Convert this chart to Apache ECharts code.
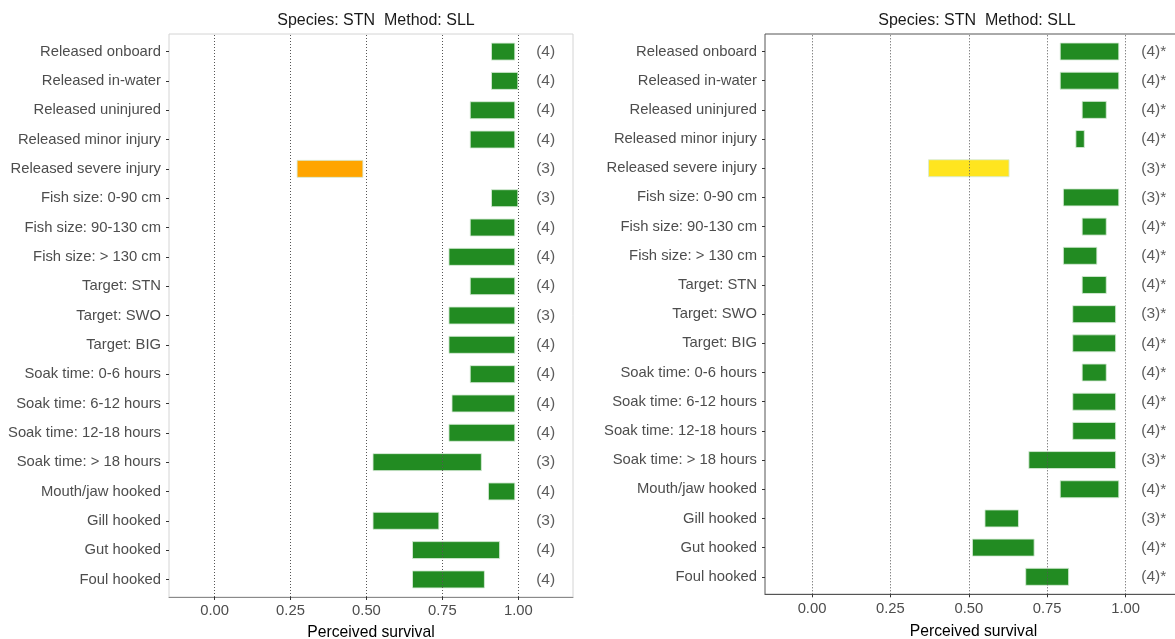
<!DOCTYPE html>
<html>
<head>
<meta charset="utf-8">
<title>Perceived survival – STN / SLL</title>
<script src="https://cdn.jsdelivr.net/npm/echarts@6/dist/echarts.min.js"></script>
<style>
  html, body { margin: 0; padding: 0; background: #fff; overflow: hidden; }
  #chart { width: 1175px; height: 639px; }
</style>
</head>
<body>
<div id="chart"></div>
<script>
// Release / capture conditions (top to bottom)
const categories = [
  'Released onboard', 'Released in-water', 'Released uninjured', 'Released minor injury',
  'Released severe injury', 'Fish size: 0-90 cm', 'Fish size: 90-130 cm', 'Fish size: > 130 cm',
  'Target: STN', 'Target: SWO', 'Target: BIG', 'Soak time: 0-6 hours', 'Soak time: 6-12 hours',
  'Soak time: 12-18 hours', 'Soak time: > 18 hours', 'Mouth/jaw hooked', 'Gill hooked',
  'Gut hooked', 'Foul hooked'
];

// Left panel: perceived survival ranges (low / high) and number of responses
const leftLow  = [0.91, 0.91, 0.84, 0.84, 0.27, 0.91, 0.84, 0.77, 0.84, 0.77, 0.77, 0.84, 0.78, 0.77, 0.52, 0.90, 0.52, 0.65, 0.65];
const leftHigh = [0.99, 1.00, 0.99, 0.99, 0.49, 1.00, 0.99, 0.99, 0.99, 0.99, 0.99, 0.99, 0.99, 0.99, 0.88, 0.99, 0.74, 0.94, 0.89];
const leftN    = [4, 4, 4, 4, 3, 3, 4, 4, 4, 3, 4, 4, 4, 4, 3, 4, 3, 4, 4];

// Right panel
const rightLow  = [0.79, 0.79, 0.86, 0.84, 0.37, 0.80, 0.86, 0.80, 0.86, 0.83, 0.83, 0.86, 0.83, 0.83, 0.69, 0.79, 0.55, 0.51, 0.68];
const rightHigh = [0.98, 0.98, 0.94, 0.87, 0.63, 0.98, 0.94, 0.91, 0.94, 0.97, 0.97, 0.94, 0.97, 0.97, 0.97, 0.98, 0.66, 0.71, 0.82];
const rightN    = [4, 4, 4, 4, 3, 3, 4, 4, 4, 3, 4, 4, 4, 4, 3, 4, 3, 4, 4];

const panelTitle = 'Species: STN  Method: SLL';
const xTicks = [0, 0.25, 0.5, 0.75, 1.0];
const xName = 'Perceived survival';

// Fill colour by the midpoint of each range
function fillFor(lo, hi, lowColor) {
  const mid = (lo + hi) / 2;
  return mid < 0.55 ? lowColor : '#228B22';
}

const FONT = 'Liberation Sans, Arial, sans-serif';
const COUNT_X = 1.09;   // column where the response counts sit
const X_MIN = -0.15, X_MAX = 1.18;
const INSET = 2.9;      // extra padding of the category band inside each frame

// Data grid: horizontal range bars + count labels
function dataPanel(idx, low, high, n, suffix, lowColor) {
  const xAxis = { type: 'value', gridIndex: idx, min: X_MIN, max: X_MAX, show: false };
  const yAxis = {
    type: 'category', gridIndex: idx, data: categories, inverse: true,
    axisLine: { show: false, onZero: false },
    axisTick: { show: true, length: 3, alignWithLabel: true, lineStyle: { color: '#333' } },
    axisLabel: { margin: 8, fontFamily: FONT, fontSize: 14.8, color: '#4d4d4d' },
    splitLine: { show: false }
  };
  const series = [
    {
      type: 'bar', xAxisIndex: idx, yAxisIndex: idx, stack: 'range' + idx, barWidth: 18,
      silent: true, itemStyle: { color: 'transparent' },
      data: low, z: 1
    },
    {
      type: 'bar', xAxisIndex: idx, yAxisIndex: idx, stack: 'range' + idx, barWidth: 18,
      data: low.map((lo, i) => ({
        value: +(high[i] - lo).toFixed(4),
        itemStyle: { color: fillFor(lo, high[i], lowColor) }
      })),
      itemStyle: { borderColor: 'rgba(215,235,215,0.85)', borderWidth: 1 },
      z: 3
    },
    {
      type: 'scatter', xAxisIndex: idx, yAxisIndex: idx, symbolSize: 0,
      data: categories.map(c => [COUNT_X, c]),
      label: {
        show: true, position: 'inside', fontFamily: FONT, fontSize: 15.5, color: '#333',
        formatter: p => '(' + n[p.dataIndex] + ')' + suffix
      },
      z: 4
    }
  ];
  return { xAxis, yAxis, series };
}

// Frame grid: panel border, x axis with ticks/labels/title, dotted reference lines
function framePanel(idx, axisLineColor, labelMargin, nameGap) {
  const xAxis = {
    type: 'value', gridIndex: idx, min: X_MIN, max: X_MAX,
    name: xName, nameLocation: 'middle', nameGap: nameGap,
    nameTextStyle: { fontFamily: FONT, fontSize: 15.7, color: '#000' },
    axisLine: { show: true, onZero: false, lineStyle: { color: axisLineColor, width: 1 } },
    axisTick: { show: true, length: 3, customValues: xTicks, lineStyle: { color: '#333' } },
    axisLabel: { customValues: xTicks, margin: labelMargin, fontFamily: FONT, fontSize: 14.8, color: '#4d4d4d',
                 formatter: v => v.toFixed(2) },
    splitLine: { show: false }
  };
  const yAxis = { type: 'value', gridIndex: idx, min: 0, max: 1, show: false };
  const series = [{
    type: 'scatter', xAxisIndex: idx, yAxisIndex: idx, data: [], silent: true,
    markLine: {
      silent: true, symbol: 'none', label: { show: false },
      lineStyle: { type: [1, 2], color: '#555', width: 1 },
      data: xTicks.map(v => ({ xAxis: v }))
    },
    z: 1
  }];
  return { xAxis, yAxis, series };
}

const L = dataPanel(0, leftLow, leftHigh, leftN, '', '#FFA500');
const R = dataPanel(1, rightLow, rightHigh, rightN, '*', '#FFE51F');
const FL = framePanel(2, '#8a8a8a', 6, 28);
const FR = framePanel(3, '#555', 7.5, 29);

const titleStyle = { fontFamily: FONT, fontSize: 16, fontWeight: 'normal', color: '#1a1a1a' };
const gridBase = { outerBoundsMode: 'none', containLabel: false };

const chart = echarts.init(document.getElementById('chart'), null, { renderer: 'canvas' });
chart.setOption({
  animation: false,
  backgroundColor: '#fff',
  title: [
    { text: panelTitle, left: 371, top: 8, textAlign: 'center', textStyle: titleStyle },
    { text: panelTitle, left: 972, top: 8, textAlign: 'center', textStyle: titleStyle }
  ],
  grid: [
    // data areas
    { ...gridBase, left: 169, top: 34 + INSET, width: 404, bottom: 42 + INSET },
    { ...gridBase, left: 765, top: 34 + INSET, width: 417, bottom: 44.7 + INSET },
    // panel frames (the right one runs past the window edge)
    { ...gridBase, left: 169, top: 34, width: 404, bottom: 42, show: true, borderColor: '#d4d4d4', borderWidth: 1, backgroundColor: 'transparent' },
    { ...gridBase, left: 765, top: 34, width: 417, bottom: 44.7, show: true, borderColor: '#555', borderWidth: 1, backgroundColor: 'transparent' }
  ],
  xAxis: [L.xAxis, R.xAxis, FL.xAxis, FR.xAxis],
  yAxis: [L.yAxis, R.yAxis, FL.yAxis, FR.yAxis],
  series: [...FL.series, ...FR.series, ...L.series, ...R.series]
});
</script>
</body>
</html>
